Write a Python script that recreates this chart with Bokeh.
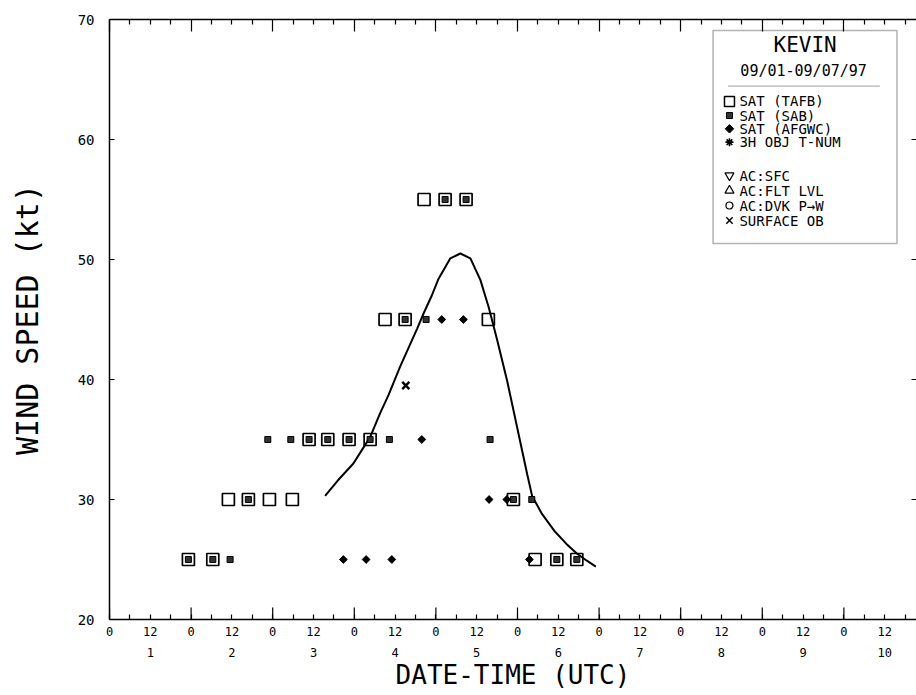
import math
from bokeh.plotting import figure
from bokeh.models import Range1d, FixedTicker, LinearAxis, BoxAnnotation, Label
from bokeh.core.properties import value
from bokeh.embed import file_html
from bokeh.resources import INLINE

# ---------------- data (time in days of September 1997, speed in kt) ----------------
DAYS = list(range(1, 11))
HOUR_LABELS = ["0", "12"]
Y_TICKS = [20, 30, 40, 50, 60, 70]

STORM_NAME = "KEVIN"
PERIOD = "09/01-09/07/97"

TAFB_TIME = [1.967, 2.266, 2.457, 2.702, 2.960, 3.241, 3.446, 3.675, 3.936, 4.194,
             4.377, 4.623, 4.855, 5.113, 5.370, 5.643, 5.950, 6.216, 6.482, 6.727]
TAFB_KT = [25, 25, 30, 30, 30, 30, 35, 35, 35, 35,
           45, 45, 55, 55, 55, 45, 30, 25, 25, 25]

SAB_TIME = [1.967, 2.266, 2.478, 2.702, 2.940, 3.222, 3.446, 3.675, 3.936, 4.194,
            4.430, 4.623, 4.880, 5.113, 5.370, 5.664, 5.950, 6.175, 6.482, 6.727]
SAB_KT = [25, 25, 25, 30, 35, 35, 35, 35, 35, 35,
          35, 45, 45, 55, 55, 35, 30, 30, 25, 25]

AFGWC_TIME = [3.866, 4.145, 4.460, 4.827, 5.072, 5.337, 5.652, 5.869, 6.146]
AFGWC_KT = [25, 25, 25, 35, 45, 45, 30, 30, 25]

SFC_OB_TIME = [4.631]
SFC_OB_KT = [39.5]

TRACK_TIME = [3.642, 3.80, 3.989, 4.10, 4.194, 4.317, 4.419, 4.563, 4.768, 4.849,
              4.95, 5.033, 5.177, 5.300, 5.423, 5.545, 5.648, 5.751, 5.873, 5.996,
              6.119, 6.179, 6.30, 6.45, 6.60, 6.727, 6.85, 6.96]
TRACK_KT = [30.3, 31.6, 33.0, 34.2, 35.2, 37.2, 38.7, 41.1, 44.2, 45.5,
            47.0, 48.4, 50.1, 50.5, 50.1, 48.3, 46.0, 43.3, 39.9, 36.0,
            32.1, 30.3, 28.8, 27.4, 26.3, 25.5, 24.9, 24.4]

LEGEND_LABELS = ["SAT (TAFB)", "SAT (SAB)", "SAT (AFGWC)", "3H OBJ T-NUM",
                 "AC:SFC", "AC:FLT LVL", "AC:DVK P→W", "SURFACE OB"]

# ---------------- figure ----------------
FONT = "DejaVu Sans Mono"
p = figure(width=916, height=695, x_range=Range1d(1.0, 10.89), y_range=Range1d(20, 70),
           output_backend="svg", toolbar_location=None,
           min_border_left=109, min_border_right=0, min_border_top=19, min_border_bottom=76,
           outline_line_color=None)
p.grid.visible = False

half_days = [d + h / 24 for d in DAYS for h in (0, 12)]
six_hours = [d + h / 24 for d in DAYS for h in (6, 18)]
day_starts = [float(d) for d in DAYS]

# bottom axis: hour labels
xa = p.xaxis[0]
xa.ticker = FixedTicker(ticks=half_days, minor_ticks=six_hours)
xa.major_label_overrides = {t: HOUR_LABELS[i % 2] for i, t in enumerate(half_days)}
xa.major_tick_in = 5
xa.major_tick_out = 0
xa.minor_tick_in = 5
xa.minor_tick_out = 0
xa.axis_line_width = 1.5
xa.major_tick_line_width = 1.2
xa.minor_tick_line_width = 1.2
xa.major_label_text_font = FONT
xa.major_label_text_font_size = "12px"
xa.major_label_text_color = "black"
xa.major_label_standoff = 7

# second bottom axis: day numbers + title
day_axis = LinearAxis(
    ticker=FixedTicker(ticks=[d + 0.5 for d in DAYS]),
    major_label_overrides={d + 0.5: str(d) for d in DAYS},
    axis_line_color=None, major_tick_line_color=None, minor_tick_line_color=None,
    major_tick_in=0, major_tick_out=0, minor_tick_in=0, minor_tick_out=0,
    major_label_standoff=9, major_label_text_font=FONT, major_label_text_font_size="12px",
    major_label_text_color="black",
    axis_label="DATE-TIME (UTC)", axis_label_text_font=FONT,
    axis_label_text_font_size="26px", axis_label_text_font_style="normal",
    axis_label_text_color="black", axis_label_standoff=0)
p.add_layout(day_axis, "below")

# top axis: ticks only
top_axis = LinearAxis(
    ticker=FixedTicker(ticks=day_starts, minor_ticks=six_hours + [d + 0.5 for d in DAYS]),
    major_tick_in=12, major_tick_out=0, minor_tick_in=5, minor_tick_out=0,
    major_tick_line_width=1.2, minor_tick_line_width=1.2, axis_line_width=1.5,
    major_label_text_color=None, major_label_text_font_size="0px", major_label_standoff=0)
p.add_layout(top_axis, "above")

# longer day ticks on the bottom axis
p.segment(x0=day_starts, y0=[p.y_range.start] * len(DAYS),
          x1=day_starts, y1=[p.y_range.start + 1] * len(DAYS),
          line_color="black", line_width=1.2)

# left axis
ya = p.yaxis[0]
ya.ticker = FixedTicker(ticks=Y_TICKS)
ya.major_tick_in = 5
ya.major_tick_out = 0
ya.minor_tick_line_color = None
ya.axis_line_width = 1.5
ya.major_tick_line_width = 1.2
ya.major_label_text_font = FONT
ya.major_label_text_font_size = "14px"
ya.major_label_text_color = "black"
ya.major_label_standoff = 15
ya.axis_label = "WIND SPEED (kt)"
ya.axis_label_text_font = FONT
ya.axis_label_text_font_size = "30px"
ya.axis_label_text_font_style = "normal"
ya.axis_label_text_color = "black"
ya.axis_label_standoff = 30

# right axis: ticks only
right_axis = LinearAxis(ticker=FixedTicker(ticks=Y_TICKS), major_tick_in=5, major_tick_out=0,
                        minor_tick_line_color=None, axis_line_color=None,
                        major_tick_line_width=1.2, major_label_text_color=None,
                        major_label_text_font_size="0px", major_label_standoff=0)
p.add_layout(right_axis, "right")

# ---------------- glyphs ----------------
p.line(TRACK_TIME, TRACK_KT, line_color="black", line_width=2)
p.scatter(TAFB_TIME, TAFB_KT, marker="square", size=12, fill_color=None,
          line_color="black", line_width=1.7)
p.scatter(SAB_TIME, SAB_KT, marker="square", size=6, fill_color="#333333",
          line_color="black", line_width=1)
p.scatter(AFGWC_TIME, AFGWC_KT, marker="square", angle=math.pi / 4, size=5.5,
          fill_color="black", line_color="black", line_width=1)
p.scatter(SFC_OB_TIME, SFC_OB_KT, marker="x", size=10, line_color="black", line_width=2.5)

# ---------------- legend box (KEVIN) ----------------
p.add_layout(BoxAnnotation(left=8.397, right=10.651, top=69.08, bottom=51.33, level="underlay",
                           fill_color="white", fill_alpha=1, line_color="black", line_width=1.5))
p.add_layout(BoxAnnotation(left=8.58, right=10.44, top=64.44, bottom=64.44,
                           fill_alpha=0, line_color="black", line_width=1.2))
p.add_layout(Label(x=9.525, y=67.9, text=STORM_NAME, text_align="center", text_baseline="middle",
                   text_font=FONT, text_font_size="21px", text_color="black"))
p.add_layout(Label(x=9.506, y=65.75, text=PERIOD, text_align="center", text_baseline="middle",
                   text_font=FONT, text_font_size="15px", text_color="black"))

# legend keys: layout rows inside the box
key_x = 8.598
text_x = 8.72
rows = [63.17, 62.0, 60.89, 59.78, 57.0, 55.75, 54.5, 53.25]
p.scatter([key_x], rows[0:1], marker="square", size=10, fill_color=None,
          line_color="black", line_width=1.5)
p.scatter([key_x], rows[1:2], marker="square", size=6, fill_color="#333333",
          line_color="black", line_width=1)
p.scatter([key_x], rows[2:3], marker="square", angle=math.pi / 4, size=6,
          fill_color="black", line_color="black", line_width=1)
p.scatter([key_x], rows[3:4], marker="asterisk", size=8, line_color="black", line_width=1.6)
p.scatter([key_x], rows[4:5], marker="inverted_triangle", size=9, fill_color=None,
          line_color="black", line_width=1.2)
p.scatter([key_x], rows[5:6], marker="triangle", size=9, fill_color=None,
          line_color="black", line_width=1.2)
p.scatter([key_x], rows[6:7], marker="circle", size=7, fill_color=None,
          line_color="black", line_width=1.2)
p.scatter([key_x], rows[7:8], marker="x", size=9, line_color="black", line_width=1.5)
p.text(x=[text_x] * len(LEGEND_LABELS), y=rows, text=LEGEND_LABELS,
       text_font=value(FONT), text_font_size="14px", text_baseline="middle",
       text_align="left", text_color="black")

open("out.html", "w").write(file_html(p, INLINE))
